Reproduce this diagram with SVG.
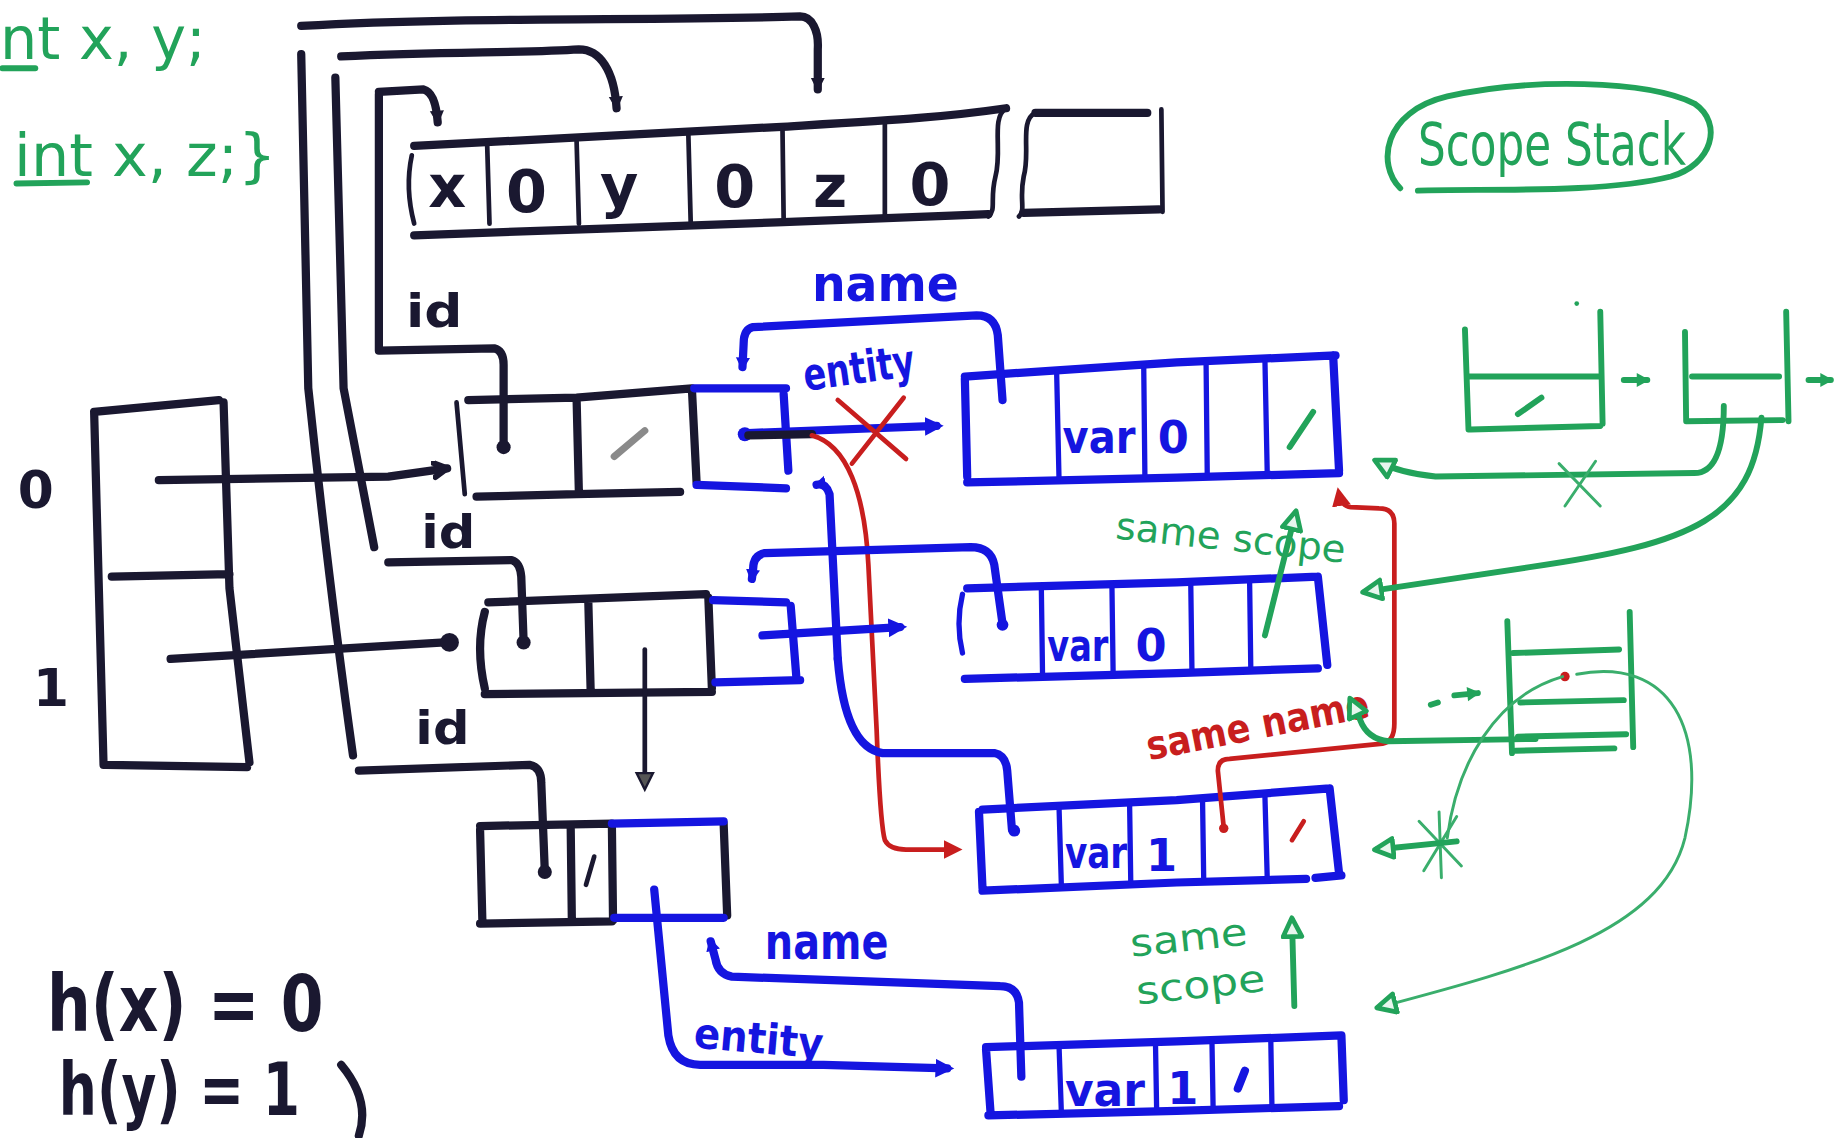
<svg xmlns="http://www.w3.org/2000/svg" width="1845" height="1138" viewBox="0 0 1845 1138">
<defs>
<style>
.k{fill:none;stroke:#1a1830;stroke-width:7;stroke-linecap:round;stroke-linejoin:round}
.kt{fill:none;stroke:#1a1830;stroke-width:4;stroke-linecap:round;stroke-linejoin:round}
.b{fill:none;stroke:#1515e0;stroke-width:7;stroke-linecap:round;stroke-linejoin:round}
.bt{fill:none;stroke:#1515e0;stroke-width:4.5;stroke-linecap:round;stroke-linejoin:round}
.g{fill:none;stroke:#22a35a;stroke-width:5;stroke-linecap:round;stroke-linejoin:round}
.gt{fill:none;stroke:#3aae6c;stroke-width:2.5;stroke-linecap:round;stroke-linejoin:round}
.r{fill:none;stroke:#c81e1e;stroke-width:4;stroke-linecap:round;stroke-linejoin:round}
.tk{fill:#1a1830;font-family:'DejaVu Sans',sans-serif;font-weight:bold}
.tb{fill:#1515e0;font-family:'DejaVu Sans',sans-serif;font-weight:bold}
.tg{fill:#22a35a;font-family:'DejaVu Sans',sans-serif}
.tr{fill:#c81e1e;font-family:'DejaVu Sans',sans-serif;font-weight:bold}
</style>
<marker id="ak" markerUnits="userSpaceOnUse" markerWidth="20" markerHeight="20" refX="13" refY="8" orient="auto"><path d="M2,2 L13,8 L2,14" fill="none" stroke="#1a1830" stroke-width="5" stroke-linecap="round" stroke-linejoin="round"/></marker>
<marker id="akf" markerUnits="userSpaceOnUse" markerWidth="20" markerHeight="20" refX="10" refY="7" orient="auto"><path d="M0,1 L12,7 L0,13 Z" fill="#1a1830"/></marker>
<marker id="akg" markerUnits="userSpaceOnUse" markerWidth="24" markerHeight="24" refX="12" refY="9" orient="auto"><path d="M1,2 L15,9 L1,16 Z" fill="#555" stroke="#1a1830" stroke-width="2"/></marker>
<marker id="ab" markerUnits="userSpaceOnUse" markerWidth="24" markerHeight="24" refX="10" refY="9" orient="auto"><path d="M0,1 L16,9 L0,17 Z" fill="#1515e0"/></marker>
<marker id="abs" markerUnits="userSpaceOnUse" markerWidth="18" markerHeight="18" refX="8" refY="6" orient="auto"><path d="M0,0 L11,6 L0,12 Z" fill="#1515e0"/></marker>
<marker id="ar" markerUnits="userSpaceOnUse" markerWidth="24" markerHeight="24" refX="10" refY="9" orient="auto"><path d="M0,1 L16,9 L0,17 Z" fill="#c81e1e"/></marker>
<marker id="ag" markerUnits="userSpaceOnUse" markerWidth="28" markerHeight="28" refX="16" refY="10" orient="auto"><path d="M2,2 L18,10 L2,18 Z" fill="#e8f6ee" stroke="#22a35a" stroke-width="4" stroke-linejoin="round"/></marker>
<marker id="ags" markerUnits="userSpaceOnUse" markerWidth="20" markerHeight="20" refX="10" refY="7" orient="auto"><path d="M1,1 L12,7 L1,13 Z" fill="#22a35a"/></marker>
</defs>
<rect width="1845" height="1138" fill="#ffffff"/>
<g transform="scale(1.17666)">

<!-- declarations -->
<g id="code">
<text class="tg" x="0" y="50" font-size="50" textLength="175" lengthAdjust="spacingAndGlyphs">nt x, y;</text>
<path class="g" d="M2 58 L30 58"/>
<text class="tg" x="12" y="150" font-size="50" textLength="223" lengthAdjust="spacingAndGlyphs">int x, z;}</text>
<path class="g" d="M14 156 L74 155"/>
</g>

<!-- string table -->
<g id="string-table">
<path class="k" d="M352 124 C450 118 560 114 660 108 S800 100 855 92"/>
<path class="k" d="M352 200 C450 196 560 193 660 189 S790 184 840 182"/>
<path class="kt" d="M350 132 Q344 160 352 190"/>
<path class="kt" d="M414 122 L416 190 M490 119 L492 190 M585 114 L587 189 M665 109 L666 187 M752 104 L752 185"/>
<path class="kt" d="M855 92 C842 100 852 128 846 150 C841 170 847 178 840 184"/>
<path class="kt" d="M880 96 C866 102 876 130 870 150 C866 170 872 178 866 184"/>
<path class="k" d="M880 96 L975 96"/>
<path class="kt" d="M987 93 L988 180"/>
<path class="k" d="M870 181 L985 178"/>
<g class="tk" font-size="50">
<text x="364" y="176">x</text>
<text x="430" y="180">0</text>
<text x="510" y="176">y</text>
<text x="607" y="176">0</text>
<text x="691" y="176">z</text>
<text x="773" y="174">0</text>
</g>
</g>

<!-- hash table -->
<g id="hash-table">
<path class="k" d="M80 350 L186 340 M190 342 L195 500 L212 648 M80 350 L88 650 M90 650 L210 652 M95 490 L195 488"/>
<text class="tk" x="15" y="432" font-size="44" font-weight="normal">0</text>
<text class="tk" x="28" y="600" font-size="44" font-weight="normal">1</text>
</g>

<!-- bucket entries -->
<g id="entry-x">
<path class="kt" d="M388 342 L395 420"/>
<path class="k" d="M398 340 L490 338 L588 330 M405 422 L490 420 L578 418 M490 338 L492 420 M588 330 L592 410"/>
<path d="M522 388 L548 366" stroke="#8a8a8a" stroke-width="6" stroke-linecap="round"/>
<path class="b" d="M590 330 L668 330 M666 335 L670 400 M592 412 L668 415"/>
<text class="tk" x="345" y="278" font-size="40" font-weight="normal" textLength="48" lengthAdjust="spacingAndGlyphs">id</text>
</g>
<g id="entry-y">
<path class="k" d="M415 512 L600 505 M412 590 L605 588 M412 520 Q404 550 412 585 M500 512 L502 588 M602 508 L605 585"/>
<path class="b" d="M606 510 L668 512 M672 515 L677 578 M608 580 L680 578"/>
<text class="tk" x="358" y="466" font-size="40" font-weight="normal" textLength="46" lengthAdjust="spacingAndGlyphs">id</text>
</g>
<g id="entry-z">
<path class="k" d="M408 702 L520 700 M408 785 L520 783 M408 705 L410 785 M485 702 L486 783 M520 700 L521 782 M615 700 L618 778"/>
<path class="b" d="M520 700 L615 698 M522 780 L615 780"/>
<path class="kt" d="M498 752 L505 728" stroke-width="5"/>
<text class="tk" x="353" y="632" font-size="40" font-weight="normal" textLength="46" lengthAdjust="spacingAndGlyphs">id</text>
</g>

<!-- symbol nodes -->
<g id="node-x-scope0">
<path class="b" d="M820 320 L895 315 L1000 308 L1135 302 M822 410 L1000 406 L1138 402 M820 322 L822 405 M1133 302 L1138 400"/>
<path class="bt" d="M898 316 L900 406 M972 310 L973 404 M1025 308 L1026 404 M1075 305 L1077 403"/>
<text class="tb" x="903" y="385" font-size="40" textLength="62" lengthAdjust="spacingAndGlyphs">var</text>
<text class="tb" x="984" y="385" font-size="38">0</text>
<path class="g" d="M1096 380 L1116 350"/>
</g>
<g id="node-y-scope0">
<path class="b" d="M822 500 L1000 495 L1120 490 M820 577 L1000 572 L1120 568 M1120 490 L1128 565"/>
<path class="bt" d="M818 505 Q812 530 818 555 M885 500 L886 572 M945 498 L946 572 M1012 497 L1013 570 M1062 494 L1063 568"/>
<text class="tb" x="890" y="562" font-size="38" textLength="52" lengthAdjust="spacingAndGlyphs">var</text>
<text class="tb" x="965" y="562" font-size="38">0</text>
</g>
<g id="node-x-scope1">
<path class="b" d="M835 688 L1000 680 L1130 670 M835 757 L1000 750 L1110 747 M1118 746 L1140 744 M832 690 L835 755 M1130 670 L1138 742"/>
<path class="bt" d="M900 685 L902 752 M960 683 L961 750 M1022 680 L1023 748 M1075 676 L1077 747"/>
<text class="tb" x="905" y="738" font-size="38" textLength="53" lengthAdjust="spacingAndGlyphs">var</text>
<text class="tb" x="974" y="740" font-size="38">1</text>
<path class="r" d="M1098 714 L1108 698" stroke-width="5"/>
</g>
<g id="node-z-scope1">
<path class="b" d="M838 890 L1000 885 L1140 880 M840 948 L1000 944 L1138 940 M838 892 L842 948 M1140 880 L1142 935"/>
<path class="bt" d="M900 888 L902 945 M982 886 L983 944 M1030 885 L1031 943 M1080 884 L1081 942"/>
<text class="tb" x="905" y="940" font-size="40" textLength="68" lengthAdjust="spacingAndGlyphs">var</text>
<text class="tb" x="992" y="938" font-size="38">1</text>
<path class="b" d="M1052 925 L1058 910" stroke-width="5"/>
</g>

<!-- scope stack -->
<g id="scope-stack">
<path class="g" d="M1190 160 C1170 140 1175 95 1230 82 C1300 66 1400 68 1440 88 C1465 105 1455 140 1420 150 C1360 165 1260 160 1205 162"/>
<text class="tg" x="1205" y="140" font-size="50" textLength="228" lengthAdjust="spacingAndGlyphs">Scope Stack</text>
</g>
<g id="stack-frame-0">
<path class="g" d="M1245 280 L1248 365 M1360 265 L1362 360 M1248 320 L1358 320 M1250 365 L1360 362"/>
<path class="g" d="M1290 352 L1310 338" stroke-width="6"/>
<circle cx="1340" cy="258" r="2" fill="#22a35a"/>
</g>
<g id="stack-frame-1">
<path class="g" d="M1432 282 L1433 358 M1518 265 L1520 358 M1438 320 L1512 320 M1433 358 L1515 357"/>
</g>
<g id="stack-frame-2">
<path class="g" d="M1281 528 L1285 640 M1385 520 L1388 635"/>
<path class="g" d="M1286 555 L1376 552 M1292 597 L1380 595 M1290 626 L1382 624 M1288 638 L1372 636"/>
<circle cx="1330" cy="575" r="4" fill="#c81e1e"/>
</g>

<!-- connectors -->
<g id="connectors">
<!-- id fields into the string table -->
<path class="k" d="M256 22 C400 14 550 18 680 14 C690 14 696 26 695 42 L695 76" marker-end="url(#akf)"/>
<path class="k" d="M290 48 C380 44 450 45 492 42 C510 42 522 60 524 92" marker-end="url(#akf)"/>
<path class="k" d="M322 78 L360 76 C368 78 371 90 372 104" marker-end="url(#akf)"/>
<path class="k" d="M256 46 L262 330 Q280 500 300 642"/>
<path class="k" d="M285 66 L292 330 L318 465"/>
<path class="k" d="M322 80 L322 298 L420 296 Q428 298 428 310 L428 378"/>
<path class="k" d="M330 478 L435 476 Q442 478 443 490 L445 545"/>
<path class="k" d="M305 655 L450 650 Q460 652 460 665 L463 740"/>
<circle cx="428" cy="380" r="6" fill="#1a1830"/>
<circle cx="445" cy="546" r="6" fill="#1a1830"/>
<circle cx="463" cy="741" r="6" fill="#1a1830"/>
<!-- buckets -->
<path class="k" d="M135 408 L330 405 L380 398" marker-end="url(#ak)"/>
<path class="k" d="M145 560 L378 546"/>
<circle cx="382" cy="546" r="8" fill="#1a1830"/>
<path class="kt" d="M548 552 L548 668" stroke="#444" marker-end="url(#akg)"/>
<!-- name / entity links -->
<text class="tb" x="690" y="256" font-size="42" textLength="125" lengthAdjust="spacingAndGlyphs">name</text>
<path class="b" d="M852 340 L848 285 Q846 268 830 268 L640 278 Q632 280 632 292 L631 312" marker-end="url(#abs)"/>
<text class="tb" x="682" y="326" font-size="38" textLength="95" lengthAdjust="spacingAndGlyphs" transform="rotate(-8 728 310)">entity</text>
<path class="b" d="M636 368 L796 362" marker-end="url(#ab)"/>
<circle cx="633" cy="369" r="6" fill="#1515e0"/>
<path class="k" d="M636 370 L690 369"/>
<path class="r" d="M690 370 C720 378 735 420 738 480 L745 620 Q748 700 752 714 Q756 722 770 722 L812 722" marker-end="url(#ar)"/>
<path class="r" d="M712 340 L770 390 M768 338 L724 394"/>
<path class="b" d="M712 560 L705 420 Q702 410 694 412" marker-end="url(#abs)"/>
<path class="b" d="M712 560 Q718 635 750 640 L845 640 Q855 642 856 655 L860 705"/>
<circle cx="862" cy="706" r="5" fill="#1515e0"/>
<path class="b" d="M852 530 L845 480 Q842 465 825 465 L650 470 Q640 472 640 484 L639 492" marker-end="url(#abs)"/>
<circle cx="852" cy="531" r="5" fill="#1515e0"/>
<path class="b" d="M648 540 L765 533" marker-end="url(#ab)"/>
<text class="tb" x="650" y="815" font-size="42" textLength="105" lengthAdjust="spacingAndGlyphs">name</text>
<path class="b" d="M868 915 L866 852 Q864 838 850 838 L622 830 Q610 828 608 815 L604 800" marker-end="url(#abs)"/>
<text class="tb" x="590" y="895" font-size="36" textLength="110" lengthAdjust="spacingAndGlyphs" transform="rotate(5 645 880)">entity</text>
<path class="b" d="M556 756 L568 880 Q572 905 595 905 L700 905 L805 908" marker-end="url(#ab)"/>
<!-- same name -->
<path class="r" d="M1040 703 L1035 655 Q1035 645 1045 645 L1175 632 Q1185 630 1185 615 L1185 445 Q1185 432 1172 432 L1148 431 Q1140 430 1138 420" marker-end="url(#ar)"/>
<circle cx="1040" cy="704" r="4" fill="#c81e1e"/>
<text class="tr" x="972" y="628" font-size="34" textLength="192" lengthAdjust="spacingAndGlyphs" transform="rotate(-11 1068 612)">same name</text>
<!-- same scope -->
<text class="tg" x="948" y="468" font-size="32" textLength="196" lengthAdjust="spacingAndGlyphs" transform="rotate(6 1046 458)">same scope</text>
<path class="g" d="M1075 540 L1101 436" marker-end="url(#ag)"/>
<text class="tg" x="960" y="808" font-size="32" textLength="100" lengthAdjust="spacingAndGlyphs" transform="rotate(-6 1010 795)">same</text>
<text class="tg" x="965" y="848" font-size="32" textLength="110" lengthAdjust="spacingAndGlyphs" transform="rotate(-6 1020 835)">scope</text>
<path class="g" d="M1100 855 L1098 782" marker-end="url(#ag)"/>
<!-- scope stack links -->
<path class="g" d="M1380 323 L1400 323" marker-end="url(#ags)"/>
<path class="g" d="M1537 323 L1556 323" marker-end="url(#ags)"/>
<path class="g" d="M1465 345 Q1465 402 1440 402 L1220 405 Q1190 402 1170 392" marker-end="url(#ag)"/>
<path class="gt" d="M1325 394 L1360 430 M1356 392 L1330 430" stroke-width="3.5"/>
<path class="g" d="M1497 355 C1490 440 1440 462 1300 482 L1160 503" marker-end="url(#ag)"/>
<path class="g" d="M1216 599 L1222 597"/>
<path class="g" d="M1236 591 L1256 589" marker-end="url(#ags)"/>
<path class="g" d="M1305 628 L1180 630 Q1162 628 1156 612 L1148 595" marker-end="url(#ag)"/>
<path class="gt" d="M1328 575 C1270 592 1238 650 1230 712"/>
<path class="gt" d="M1206 698 L1242 736 M1238 694 L1210 740 M1223 690 L1225 746" stroke-width="3.5"/>
<path class="g" d="M1238 715 L1170 722" marker-end="url(#ag)"/>
<path class="gt" d="M1340 573 C1420 558 1452 620 1432 712 C1412 792 1300 822 1172 856" stroke-width="3" marker-end="url(#ag)"/>
</g>

<!-- hash function values -->
<g id="hash-values">
<text class="tk" x="40" y="876" font-size="66" font-weight="normal" textLength="235" lengthAdjust="spacingAndGlyphs">h(x) = 0</text>
<text class="tk" x="50" y="948" font-size="62" font-weight="normal" textLength="205" lengthAdjust="spacingAndGlyphs">h(y) = 1</text>
<path class="k" d="M290 905 Q315 935 305 965"/>
</g>
</g>
</svg>
